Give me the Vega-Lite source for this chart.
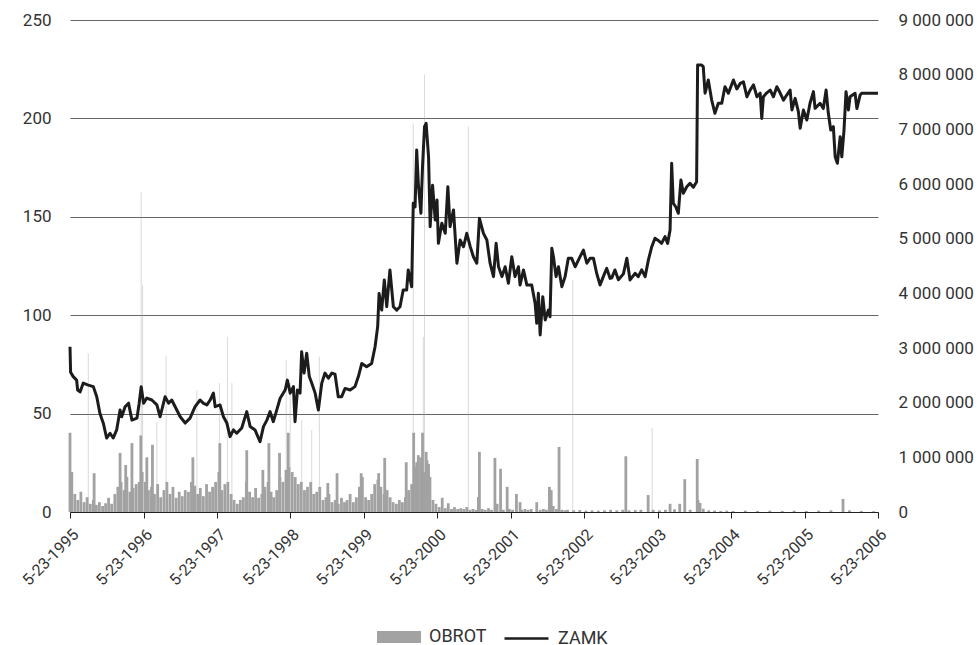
{
  "$schema": "https://vega.github.io/schema/vega-lite/v6.json",
  "width": 808,
  "height": 492,
  "autosize": {"type": "none"},
  "padding": {"left": 70, "top": 20, "right": 101, "bottom": 133},
  "config": {
    "view": {"stroke": null},
    "font": "Roboto",
    "locale": {"number": {"decimal": ",", "thousands": " ", "grouping": [3], "currency": ["", ""]}},
    "axis": {"labelFont": "Roboto", "labelFontSize": 17, "labelColor": "#333333"}
  },
  "datasets": {
    "zamk": [
      {"d":"1995-05-23","p":84},{"d":"1995-05-26","p":71},{"d":"1995-06-08","p":68.8},{"d":"1995-06-25","p":67},{"d":"1995-06-30","p":62},
      {"d":"1995-07-12","p":61},{"d":"1995-07-28","p":65.5},{"d":"1995-08-22","p":64.5},{"d":"1995-09-16","p":63.7},{"d":"1995-10-03","p":58.6},
      {"d":"1995-10-19","p":50},{"d":"1995-11-05","p":45},{"d":"1995-11-21","p":37.6},{"d":"1995-12-08","p":40},{"d":"1995-12-24","p":37.6},
      {"d":"1996-01-10","p":41.7},{"d":"1996-01-27","p":51.8},{"d":"1996-02-04","p":48.4},{"d":"1996-02-21","p":53.5},{"d":"1996-03-09","p":55.3},
      {"d":"1996-03-26","p":46.7},{"d":"1996-04-20","p":47.7},{"d":"1996-05-01","p":55.3},{"d":"1996-05-11","p":63.7},{"d":"1996-05-23","p":55.3},
      {"d":"1996-06-08","p":57.9},{"d":"1996-07-03","p":56.9},{"d":"1996-07-28","p":54.4},{"d":"1996-08-13","p":48.4},{"d":"1996-09-07","p":58.6},
      {"d":"1996-09-24","p":55.3},{"d":"1996-10-10","p":56.9},{"d":"1996-10-27","p":53.5},{"d":"1996-11-21","p":48.4},{"d":"1996-12-16","p":45.2},
      {"d":"1997-01-09","p":47.7},{"d":"1997-02-03","p":53.5},{"d":"1997-02-28","p":56.9},{"d":"1997-03-17","p":55.2},{"d":"1997-04-03","p":54.4},
      {"d":"1997-04-19","p":56.9},{"d":"1997-05-05","p":60.4},{"d":"1997-05-14","p":53.5},{"d":"1997-06-07","p":54.4},{"d":"1997-06-24","p":48.4},
      {"d":"1997-07-11","p":45.2},{"d":"1997-07-27","p":38.3},{"d":"1997-08-13","p":41.7},{"d":"1997-08-29","p":40},{"d":"1997-09-23","p":42.7},
      {"d":"1997-10-18","p":51},{"d":"1997-11-04","p":43.4},{"d":"1997-11-28","p":41.7},{"d":"1997-12-23","p":35.7},{"d":"1998-01-09","p":43.4},
      {"d":"1998-01-26","p":46.7},{"d":"1998-02-11","p":51},{"d":"1998-02-27","p":45.9},{"d":"1998-03-16","p":51.8},{"d":"1998-04-02","p":57.8},
      {"d":"1998-04-27","p":62},{"d":"1998-05-08","p":67},{"d":"1998-05-22","p":60.4},{"d":"1998-06-07","p":63.7},{"d":"1998-06-15","p":45.9},
      {"d":"1998-06-27","p":62},{"d":"1998-07-10","p":60.4},{"d":"1998-07-18","p":81.4},{"d":"1998-07-30","p":70.6},{"d":"1998-08-12","p":80.7},
      {"d":"1998-08-25","p":68.8},{"d":"1998-09-06","p":65.5},{"d":"1998-09-23","p":60.4},{"d":"1998-10-09","p":51.8},{"d":"1998-10-26","p":65.5},
      {"d":"1998-11-11","p":70.6},{"d":"1998-11-28","p":68},{"d":"1998-12-15","p":70.6},{"d":"1998-12-31","p":70},{"d":"1999-01-16","p":58.6},
      {"d":"1999-02-02","p":58.6},{"d":"1999-02-19","p":62.8},{"d":"1999-03-16","p":62},{"d":"1999-04-09","p":63.7},{"d":"1999-04-26","p":68.8},
      {"d":"1999-05-13","p":75.5},{"d":"1999-06-06","p":73.8},{"d":"1999-07-01","p":75.5},{"d":"1999-07-18","p":84},{"d":"1999-07-31","p":94.2},
      {"d":"1999-08-07","p":111},{"d":"1999-08-20","p":102.6},{"d":"1999-09-02","p":117.9},{"d":"1999-09-14","p":104.3},{"d":"1999-09-30","p":123},
      {"d":"1999-10-17","p":104.3},{"d":"1999-11-03","p":102.6},{"d":"1999-11-19","p":104.3},{"d":"1999-12-05","p":112.8},{"d":"1999-12-22","p":112.8},
      {"d":"1999-12-30","p":123},{"d":"2000-01-16","p":114.5},{"d":"2000-01-24","p":156.9},{"d":"2000-02-02","p":155},{"d":"2000-02-10","p":184},
      {"d":"2000-02-18","p":167},{"d":"2000-03-02","p":151.8},{"d":"2000-03-10","p":175.5},{"d":"2000-03-20","p":195.8},{"d":"2000-03-28","p":197.5},
      {"d":"2000-04-09","p":180.5},{"d":"2000-04-17","p":145},{"d":"2000-04-29","p":166},{"d":"2000-05-12","p":148.4},{"d":"2000-05-21","p":158.5},
      {"d":"2000-05-28","p":136.5},{"d":"2000-06-14","p":146.7},{"d":"2000-07-01","p":141.6},{"d":"2000-07-14","p":165.3},{"d":"2000-07-25","p":145},
      {"d":"2000-08-11","p":153.5},{"d":"2000-08-28","p":126.4},{"d":"2000-09-13","p":138.2},{"d":"2000-09-30","p":134.8},{"d":"2000-10-16","p":141.6},
      {"d":"2000-11-02","p":135},{"d":"2000-11-18","p":129.7},{"d":"2000-12-05","p":126.4},{"d":"2000-12-18","p":149.2},{"d":"2001-01-07","p":141.6},
      {"d":"2001-01-24","p":138.2},{"d":"2001-02-09","p":126.4},{"d":"2001-02-26","p":119.6},{"d":"2001-03-11","p":136.5},{"d":"2001-03-23","p":124.6},
      {"d":"2001-04-09","p":119.6},{"d":"2001-04-25","p":124.6},{"d":"2001-05-11","p":116.2},{"d":"2001-05-28","p":129.7},{"d":"2001-06-13","p":119.6},
      {"d":"2001-06-30","p":124.6},{"d":"2001-07-08","p":115.3},{"d":"2001-07-25","p":123},{"d":"2001-08-11","p":115.3},{"d":"2001-09-04","p":115.3},
      {"d":"2001-09-21","p":106},{"d":"2001-09-29","p":95.9},{"d":"2001-10-07","p":111.1},{"d":"2001-10-16","p":90},{"d":"2001-10-29","p":109.4},
      {"d":"2001-11-10","p":97.6},{"d":"2001-11-26","p":102.6},{"d":"2001-12-04","p":99.2},{"d":"2001-12-13","p":134},{"d":"2001-12-21","p":129.7},
      {"d":"2002-01-03","p":119.6},{"d":"2002-01-15","p":124.6},{"d":"2002-02-01","p":114.5},{"d":"2002-02-17","p":119.6},{"d":"2002-03-05","p":128.9},
      {"d":"2002-03-22","p":128.9},{"d":"2002-04-08","p":124.6},{"d":"2002-04-24","p":128},{"d":"2002-05-19","p":133.1},{"d":"2002-06-05","p":126.4},
      {"d":"2002-06-21","p":128.9},{"d":"2002-07-08","p":128.9},{"d":"2002-07-24","p":121.3},{"d":"2002-08-10","p":115.3},{"d":"2002-08-26","p":119.6},
      {"d":"2002-09-12","p":123.8},{"d":"2002-09-29","p":118.7},{"d":"2002-10-07","p":119},{"d":"2002-10-23","p":123},{"d":"2002-11-09","p":118},
      {"d":"2002-12-04","p":121},{"d":"2002-12-21","p":128.9},{"d":"2003-01-06","p":117.9},{"d":"2003-01-31","p":121.3},{"d":"2003-02-16","p":119.6},
      {"d":"2003-03-05","p":123},{"d":"2003-03-22","p":119.6},{"d":"2003-04-07","p":128},{"d":"2003-04-24","p":134.8},{"d":"2003-05-10","p":139.1},
      {"d":"2003-05-26","p":138},{"d":"2003-06-12","p":136.5},{"d":"2003-06-29","p":139.9},{"d":"2003-07-12","p":136.5},{"d":"2003-07-24","p":143.3},
      {"d":"2003-08-01","p":177.2},{"d":"2003-08-09","p":156.9},{"d":"2003-08-21","p":155.1},{"d":"2003-09-03","p":151.8},{"d":"2003-09-16","p":168.7},
      {"d":"2003-09-28","p":162},{"d":"2003-10-15","p":165.3},{"d":"2003-10-31","p":167},{"d":"2003-11-17","p":165},{"d":"2003-12-03","p":167.8},
      {"d":"2003-12-08","p":227.1},{"d":"2003-12-28","p":227.1},{"d":"2004-01-05","p":226.3},{"d":"2004-01-14","p":212.8},{"d":"2004-01-30","p":219.5},
      {"d":"2004-02-16","p":209.3},{"d":"2004-03-03","p":202.6},{"d":"2004-03-20","p":207.7},{"d":"2004-04-06","p":207.7},{"d":"2004-04-22","p":216.1},
      {"d":"2004-05-09","p":212.8},{"d":"2004-06-03","p":219.5},{"d":"2004-06-20","p":215},{"d":"2004-07-07","p":217.8},{"d":"2004-07-23","p":218.6},
      {"d":"2004-08-09","p":211},{"d":"2004-08-25","p":214.4},{"d":"2004-09-11","p":217},{"d":"2004-09-28","p":211},{"d":"2004-10-14","p":212.8},
      {"d":"2004-10-22","p":200},{"d":"2004-10-30","p":211},{"d":"2004-11-16","p":213},{"d":"2004-12-03","p":214.4},{"d":"2004-12-19","p":211},
      {"d":"2005-01-05","p":216.1},{"d":"2005-01-21","p":213},{"d":"2005-02-07","p":209.3},{"d":"2005-02-24","p":212},{"d":"2005-03-12","p":214.4},
      {"d":"2005-03-21","p":204.3},{"d":"2005-04-06","p":210.2},{"d":"2005-04-22","p":203.4},{"d":"2005-05-01","p":195},{"d":"2005-05-17","p":204.3},
      {"d":"2005-06-03","p":199.2},{"d":"2005-06-19","p":207.7},{"d":"2005-07-06","p":213.6},{"d":"2005-07-14","p":205.1},{"d":"2005-08-08","p":207.7},
      {"d":"2005-08-24","p":205},{"d":"2005-09-07","p":214.4},{"d":"2005-09-18","p":202.6},{"d":"2005-09-30","p":194.1},{"d":"2005-10-13","p":195.8},
      {"d":"2005-10-22","p":180.5},{"d":"2005-11-02","p":177.2},{"d":"2005-11-16","p":190.7},{"d":"2005-11-24","p":180.5},{"d":"2005-12-05","p":194.1},
      {"d":"2005-12-15","p":213.6},{"d":"2005-12-27","p":204.3},{"d":"2006-01-04","p":211},{"d":"2006-01-29","p":212.8},{"d":"2006-02-07","p":205},
      {"d":"2006-02-23","p":211.9},{"d":"2006-03-03","p":212.8},{"d":"2006-05-23","p":212.8}
    ],
    "obrot": [
      {"d":"1995-05-23","v":1450000},{"d":"1995-05-28","v":600000},{"d":"1995-06-01","v":730000},{"d":"1995-06-16","v":330000},{"d":"1995-07-01","v":220000},
      {"d":"1995-07-16","v":370000},{"d":"1995-08-01","v":180000},{"d":"1995-08-16","v":270000},{"d":"1995-08-22","v":2900000},{"d":"1995-09-01","v":150000},
      {"d":"1995-09-16","v":220000},{"d":"1995-09-20","v":710000},{"d":"1995-10-01","v":130000},{"d":"1995-10-16","v":180000},{"d":"1995-11-01","v":110000},
      {"d":"1995-11-16","v":160000},{"d":"1995-12-01","v":260000},{"d":"1995-12-16","v":150000},{"d":"1996-01-01","v":330000},{"d":"1996-01-16","v":460000},
      {"d":"1996-01-27","v":1080000},{"d":"1996-02-01","v":550000},{"d":"1996-02-16","v":400000},{"d":"1996-02-24","v":860000},{"d":"1996-03-01","v":640000},
      {"d":"1996-03-16","v":370000},{"d":"1996-03-26","v":1260000},{"d":"1996-04-01","v":440000},{"d":"1996-04-16","v":510000},{"d":"1996-05-01","v":550000},
      {"d":"1996-05-09","v":1400000},{"d":"1996-05-11","v":5850000},{"d":"1996-05-16","v":730000},{"d":"1996-05-18","v":4150000},{"d":"1996-06-01","v":550000},
      {"d":"1996-06-08","v":1000000},{"d":"1996-06-16","v":400000},{"d":"1996-07-01","v":460000},{"d":"1996-07-06","v":1230000},{"d":"1996-07-16","v":330000},
      {"d":"1996-07-28","v":1650000},{"d":"1996-08-01","v":510000},{"d":"1996-08-16","v":270000},{"d":"1996-09-01","v":400000},{"d":"1996-09-12","v":2850000},
      {"d":"1996-09-16","v":550000},{"d":"1996-10-01","v":330000},{"d":"1996-10-16","v":460000},{"d":"1996-11-01","v":260000},{"d":"1996-11-16","v":370000},
      {"d":"1996-12-01","v":290000},{"d":"1996-12-16","v":400000},{"d":"1997-01-01","v":370000},{"d":"1997-01-16","v":550000},{"d":"1997-01-23","v":1000000},
      {"d":"1997-02-01","v":480000},{"d":"1997-02-12","v":2230000},{"d":"1997-02-16","v":330000},{"d":"1997-03-01","v":440000},{"d":"1997-03-16","v":290000},
      {"d":"1997-04-01","v":510000},{"d":"1997-04-16","v":370000},{"d":"1997-05-01","v":460000},{"d":"1997-05-16","v":550000},{"d":"1997-06-01","v":730000},
      {"d":"1997-06-04","v":2360000},{"d":"1997-06-06","v":1260000},{"d":"1997-06-16","v":400000},{"d":"1997-07-01","v":510000},{"d":"1997-07-14","v":3200000},
      {"d":"1997-07-16","v":550000},{"d":"1997-08-01","v":330000},{"d":"1997-08-05","v":2360000},{"d":"1997-08-16","v":220000},{"d":"1997-09-01","v":150000},
      {"d":"1997-09-16","v":220000},{"d":"1997-10-01","v":270000},{"d":"1997-10-16","v":550000},{"d":"1997-10-18","v":1130000},{"d":"1997-11-01","v":370000},
      {"d":"1997-11-16","v":270000},{"d":"1997-12-01","v":440000},{"d":"1997-12-16","v":260000},{"d":"1998-01-01","v":330000},{"d":"1998-01-06","v":770000},
      {"d":"1998-01-16","v":460000},{"d":"1998-02-01","v":550000},{"d":"1998-02-05","v":1260000},{"d":"1998-02-16","v":370000},{"d":"1998-03-01","v":270000},
      {"d":"1998-03-16","v":400000},{"d":"1998-03-30","v":1080000},{"d":"1998-04-01","v":640000},{"d":"1998-04-16","v":550000},{"d":"1998-05-01","v":770000},
      {"d":"1998-05-02","v":2780000},{"d":"1998-05-12","v":1450000},{"d":"1998-05-16","v":820000},{"d":"1998-05-22","v":2360000},{"d":"1998-06-01","v":730000},
      {"d":"1998-06-16","v":640000},{"d":"1998-07-01","v":510000},{"d":"1998-07-16","v":550000},{"d":"1998-07-18","v":1680000},{"d":"1998-08-01","v":400000},
      {"d":"1998-08-16","v":460000},{"d":"1998-09-01","v":550000},{"d":"1998-09-06","v":1500000},{"d":"1998-09-16","v":330000},{"d":"1998-10-01","v":370000},
      {"d":"1998-10-14","v":2840000},{"d":"1998-10-16","v":460000},{"d":"1998-11-01","v":220000},{"d":"1998-11-16","v":270000},{"d":"1998-11-25","v":530000},
      {"d":"1998-12-01","v":330000},{"d":"1998-12-16","v":180000},{"d":"1999-01-01","v":220000},{"d":"1999-01-10","v":710000},{"d":"1999-01-16","v":150000},
      {"d":"1999-02-01","v":260000},{"d":"1999-02-16","v":180000},{"d":"1999-03-01","v":220000},{"d":"1999-03-16","v":330000},{"d":"1999-04-01","v":180000},
      {"d":"1999-04-16","v":270000},{"d":"1999-05-01","v":460000},{"d":"1999-05-10","v":710000},{"d":"1999-05-16","v":640000},{"d":"1999-06-01","v":270000},
      {"d":"1999-06-16","v":220000},{"d":"1999-07-01","v":330000},{"d":"1999-07-16","v":510000},{"d":"1999-08-01","v":590000},{"d":"1999-08-05","v":710000},
      {"d":"1999-08-16","v":460000},{"d":"1999-09-01","v":330000},{"d":"1999-09-04","v":990000},{"d":"1999-09-16","v":400000},{"d":"1999-10-01","v":270000},
      {"d":"1999-10-16","v":180000},{"d":"1999-11-01","v":150000},{"d":"1999-11-16","v":220000},{"d":"1999-12-01","v":180000},{"d":"1999-12-16","v":270000},
      {"d":"1999-12-20","v":910000},{"d":"2000-01-01","v":400000},{"d":"2000-01-16","v":510000},{"d":"2000-01-24","v":7100000},{"d":"2000-01-26","v":1450000},
      {"d":"2000-02-01","v":820000},{"d":"2000-02-10","v":910000},{"d":"2000-02-16","v":910000},{"d":"2000-02-18","v":1040000},{"d":"2000-03-01","v":1000000},
      {"d":"2000-03-10","v":1450000},{"d":"2000-03-14","v":3200000},{"d":"2000-03-16","v":730000},{"d":"2000-03-20","v":8000000},{"d":"2000-03-28","v":1100000},
      {"d":"2000-04-01","v":950000},{"d":"2000-04-09","v":880000},{"d":"2000-04-16","v":640000},{"d":"2000-05-01","v":220000},{"d":"2000-05-16","v":150000},
      {"d":"2000-06-01","v":90000},{"d":"2000-06-16","v":260000},{"d":"2000-07-01","v":70000},{"d":"2000-07-16","v":160000},{"d":"2000-08-01","v":55000},
      {"d":"2000-08-16","v":90000},{"d":"2000-09-01","v":55000},{"d":"2000-09-16","v":70000},{"d":"2000-10-01","v":55000},{"d":"2000-10-16","v":90000},
      {"d":"2000-10-24","v":7050000},{"d":"2000-11-01","v":40000},{"d":"2000-11-16","v":55000},{"d":"2000-12-01","v":40000},{"d":"2000-12-13","v":275000},
      {"d":"2000-12-18","v":1100000},{"d":"2001-01-01","v":55000},{"d":"2001-01-16","v":40000},{"d":"2001-02-01","v":70000},{"d":"2001-02-16","v":40000},
      {"d":"2001-03-05","v":990000},{"d":"2001-03-16","v":150000},{"d":"2001-04-02","v":790000},{"d":"2001-04-16","v":40000},{"d":"2001-05-05","v":460000},
      {"d":"2001-05-16","v":55000},{"d":"2001-06-01","v":40000},{"d":"2001-06-20","v":330000},{"d":"2001-07-08","v":180000},{"d":"2001-07-16","v":40000},
      {"d":"2001-08-01","v":55000},{"d":"2001-08-16","v":40000},{"d":"2001-09-01","v":55000},{"d":"2001-09-29","v":180000},{"d":"2001-10-16","v":40000},
      {"d":"2001-11-01","v":55000},{"d":"2001-11-16","v":40000},{"d":"2001-12-01","v":460000},{"d":"2001-12-10","v":400000},{"d":"2001-12-20","v":110000},
      {"d":"2002-01-05","v":55000},{"d":"2002-01-18","v":1190000},{"d":"2002-02-01","v":40000},{"d":"2002-02-16","v":30000},{"d":"2002-03-01","v":40000},
      {"d":"2002-03-27","v":4250000},{"d":"2002-04-01","v":30000},{"d":"2002-05-01","v":35000},{"d":"2002-06-01","v":25000},{"d":"2002-07-01","v":30000},
      {"d":"2002-08-01","v":25000},{"d":"2002-09-01","v":30000},{"d":"2002-10-01","v":40000},{"d":"2002-11-01","v":30000},{"d":"2002-12-01","v":40000},
      {"d":"2002-12-16","v":1020000},{"d":"2003-01-01","v":30000},{"d":"2003-02-01","v":35000},{"d":"2003-03-01","v":40000},{"d":"2003-04-06","v":310000},
      {"d":"2003-04-26","v":1540000},{"d":"2003-05-01","v":40000},{"d":"2003-06-01","v":30000},{"d":"2003-07-01","v":40000},{"d":"2003-07-24","v":150000},
      {"d":"2003-08-15","v":50000},{"d":"2003-09-10","v":150000},{"d":"2003-10-05","v":600000},{"d":"2003-11-01","v":40000},{"d":"2003-12-06","v":970000},
      {"d":"2003-12-10","v":220000},{"d":"2003-12-20","v":165000},{"d":"2004-01-05","v":60000},{"d":"2004-02-01","v":30000},{"d":"2004-03-01","v":25000},
      {"d":"2004-04-01","v":20000},{"d":"2004-05-01","v":25000},{"d":"2004-06-01","v":20000},{"d":"2004-08-01","v":25000},{"d":"2004-10-01","v":20000},
      {"d":"2004-12-01","v":25000},{"d":"2005-02-01","v":20000},{"d":"2005-04-01","v":25000},{"d":"2005-06-01","v":20000},{"d":"2005-08-01","v":25000},
      {"d":"2005-10-01","v":30000},{"d":"2005-11-30","v":240000},{"d":"2006-01-01","v":30000},{"d":"2006-03-01","v":20000},{"d":"2006-05-01","v":15000}
    ]
  },
  "encoding": {
    "x": {
      "field": "d",
      "type": "temporal",
      "title": null,
      "scale": {
        "type": "utc",
        "padding": 0,
        "domain": [{"year": 1995, "month": 5, "date": 23, "utc": true}, {"year": 2006, "month": 5, "date": 23, "utc": true}]
      },
      "axis": {
        "values": [
          {"year": 1995, "month": 5, "date": 23, "utc": true},{"year": 1996, "month": 5, "date": 23, "utc": true},
          {"year": 1997, "month": 5, "date": 23, "utc": true},{"year": 1998, "month": 5, "date": 23, "utc": true},
          {"year": 1999, "month": 5, "date": 23, "utc": true},{"year": 2000, "month": 5, "date": 23, "utc": true},
          {"year": 2001, "month": 5, "date": 23, "utc": true},{"year": 2002, "month": 5, "date": 23, "utc": true},
          {"year": 2003, "month": 5, "date": 23, "utc": true},{"year": 2004, "month": 5, "date": 23, "utc": true},
          {"year": 2005, "month": 5, "date": 23, "utc": true},{"year": 2006, "month": 5, "date": 23, "utc": true}
        ],
        "format": "%-m-%d-%Y",
        "labelAngle": -45,
        "labelAlign": "right",
        "labelBaseline": "top",
        "labelPadding": 8,
        "labelFontSize": 16,
        "labelOverlap": false,
        "grid": false,
        "domainColor": "#222222",
        "domainWidth": 1,
        "tickColor": "#222222",
        "tickSize": 6
      }
    }
  },
  "layer": [
    {
      "data": {"name": "obrot"},
      "encoding": {
        "y": {
          "field": "v",
          "type": "quantitative",
          "title": null,
          "scale": {"domain": [0, 9000000]},
          "axis": {
            "orient": "right",
            "values": [0, 1000000, 2000000, 3000000, 4000000, 5000000, 6000000, 7000000, 8000000, 9000000],
            "format": ",d",
            "grid": false,
            "ticks": false,
            "domain": false,
            "labelPadding": 20
          }
        },
        "fill": {
          "datum": "OBROT",
          "scale": {"range": ["#a2a2a2"]},
          "legend": {
            "title": null,
            "orient": "none",
            "legendX": 307,
            "legendY": 595,
            "padding": 0,
            "symbolType": "M-1,-0.27L1,-0.27L1,0.27L-1,0.27Z",
            "symbolSize": 1936,
            "symbolStrokeWidth": 0,
            "symbolOpacity": 1,
            "symbolFillColor": "#9c9c9c",
            "labelFont": "Roboto",
            "labelFontSize": 18,
            "labelColor": "#333333",
            "labelOffset": 8,
            "labelLimit": 300
          }
        }
      },
      "layer": [
        {
          "transform": [{"filter": "datum.v < 1500000"}],
          "mark": {"type": "bar", "width": 2.8}
        },
        {
          "transform": [{"filter": "datum.v >= 1500000"}],
          "mark": {"type": "bar", "width": 1, "opacity": 0.4}
        }
      ]
    },
    {
      "data": {"name": "zamk"},
      "mark": {"type": "line", "strokeWidth": 3, "strokeJoin": "round"},
      "encoding": {
        "y": {
          "field": "p",
          "type": "quantitative",
          "title": null,
          "scale": {"domain": [0, 250]},
          "axis": {
            "orient": "left",
            "values": [0, 50, 100, 150, 200, 250],
            "grid": true,
            "gridColor": "#666666",
            "gridWidth": 1,
            "ticks": false,
            "domain": false,
            "labelPadding": 19
          }
        },
        "stroke": {
          "datum": "ZAMK",
          "scale": {"range": ["#1c1c1c"]},
          "legend": {
            "title": null,
            "orient": "none",
            "legendX": 433,
            "legendY": 595,
            "padding": 0,
            "symbolType": "stroke",
            "symbolSize": 1936,
            "symbolStrokeWidth": 2.5,
            "labelFont": "Roboto",
            "labelFontSize": 18,
            "labelColor": "#333333",
            "labelOffset": 8,
            "labelLimit": 300
          }
        }
      }
    }
  ],
  "resolve": {"scale": {"y": "independent"}}
}
